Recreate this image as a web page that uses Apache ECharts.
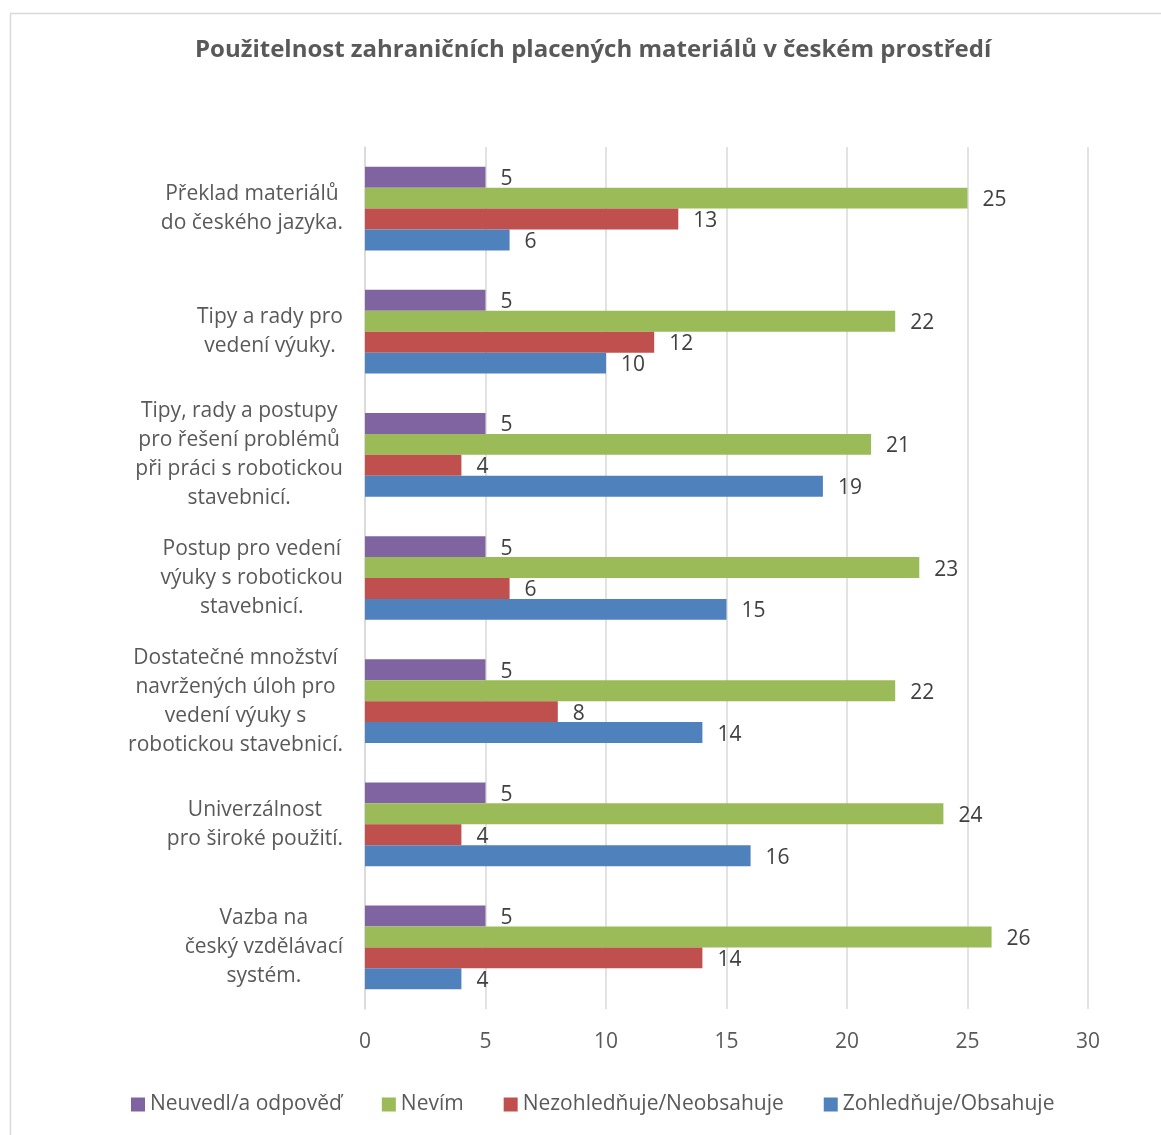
<!DOCTYPE html>
<html>
<head>
<meta charset="utf-8">
<script src="https://cdn.jsdelivr.net/npm/echarts@6/dist/echarts.min.js"></script>
<style>
html,body{margin:0;padding:0;background:#fff;}
#chart{width:1161px;height:1135px;}
</style>
</head>
<body>
<div id="chart"></div>
<script>
const categories = [
  "Překlad materiálů\ndo českého jazyka.",
  "Tipy a rady pro\nvedení výuky.",
  "Tipy, rady a postupy\npro řešení problémů\npři práci s robotickou\nstavebnicí.",
  "Postup pro vedení\nvýuky s robotickou\nstavebnicí.",
  "Dostatečné množství\nnavržených úloh pro\nvedení výuky s\nrobotickou stavebnicí.",
  "Univerzálnost\npro široké použití.",
  "Vazba na\nčeský vzdělávací\nsystém."
];
const seriesNames = ["Neuvedl/a odpověď", "Nevím", "Nezohledňuje/Neobsahuje", "Zohledňuje/Obsahuje"];
const neuvedl = [5, 5, 5, 5, 5, 5, 5];
const nevim = [25, 22, 21, 23, 22, 24, 26];
const nezohlednuje = [13, 12, 4, 6, 8, 4, 14];
const zohlednuje = [6, 10, 19, 15, 14, 16, 4];
const xTicks = [0, 5, 10, 15, 20, 25, 30];

const colors = ["#8064A2", "#9BBB59", "#C0504D", "#4F81BD"];
const values = [neuvedl, nevim, nezohlednuje, zohlednuje];
const FONT = "Open Sans";

const chart = echarts.init(document.getElementById('chart'));
chart.setOption({
  animation: false,
  textStyle: { fontFamily: FONT },
  title: {
    text: "Použitelnost zahraničních placených materiálů v českém prostředí",
    left: 190, top: 33,
    textStyle: { fontFamily: FONT, fontSize: 24, fontWeight: 'bold', color: '#595959' }
  },
  graphic: [{
    type: 'rect', left: 8, top: 11, z: -1,
    shape: { width: 1170, height: 1140 },
    style: { fill: 'none', stroke: '#d9d9d9', lineWidth: 1.5 }
  }],
  legend: {
    bottom: 15, left: 126,
    data: seriesNames,
    icon: 'rect', itemWidth: 14, itemHeight: 14, itemGap: 40,
    textStyle: { fontFamily: FONT, fontSize: 21, color: '#595959' }
  },
  grid: { left: 365, right: 73, top: 147, bottom: 126, containLabel: false },
  xAxis: {
    type: 'value', min: xTicks[0], max: xTicks[xTicks.length - 1], interval: 5,
    axisLine: { show: false }, axisTick: { show: false },
    splitLine: { show: true, lineStyle: { color: '#d9d9d9', width: 1.5 } },
    axisLabel: { fontFamily: FONT, fontSize: 21, color: '#595959', margin: 23 }
  },
  yAxis: {
    type: 'category', inverse: true, data: categories,
    axisLine: { show: true, lineStyle: { color: '#d9d9d9', width: 1.5 } },
    axisTick: { show: false },
    axisLabel: {
      margin: 22, align: 'right', color: '#595959',
      fontFamily: FONT, fontSize: 21, lineHeight: 29,
      formatter: v => v.split('\n').map(l => '{c|' + l + '}').join('\n'),
      rich: { c: { align: 'center', fontFamily: FONT, fontSize: 21, lineHeight: 29, color: '#595959' } }
    }
  },
  series: seriesNames.map((name, i) => ({
    name, type: 'bar', data: values[i],
    barGap: '0%', barCategoryGap: '32%',
    itemStyle: { color: colors[i] },
    label: { show: true, position: 'right', distance: 15, fontFamily: FONT, fontSize: 21, color: '#404040', offset: [0, 2] }
  }))
});
</script>
</body>
</html>
